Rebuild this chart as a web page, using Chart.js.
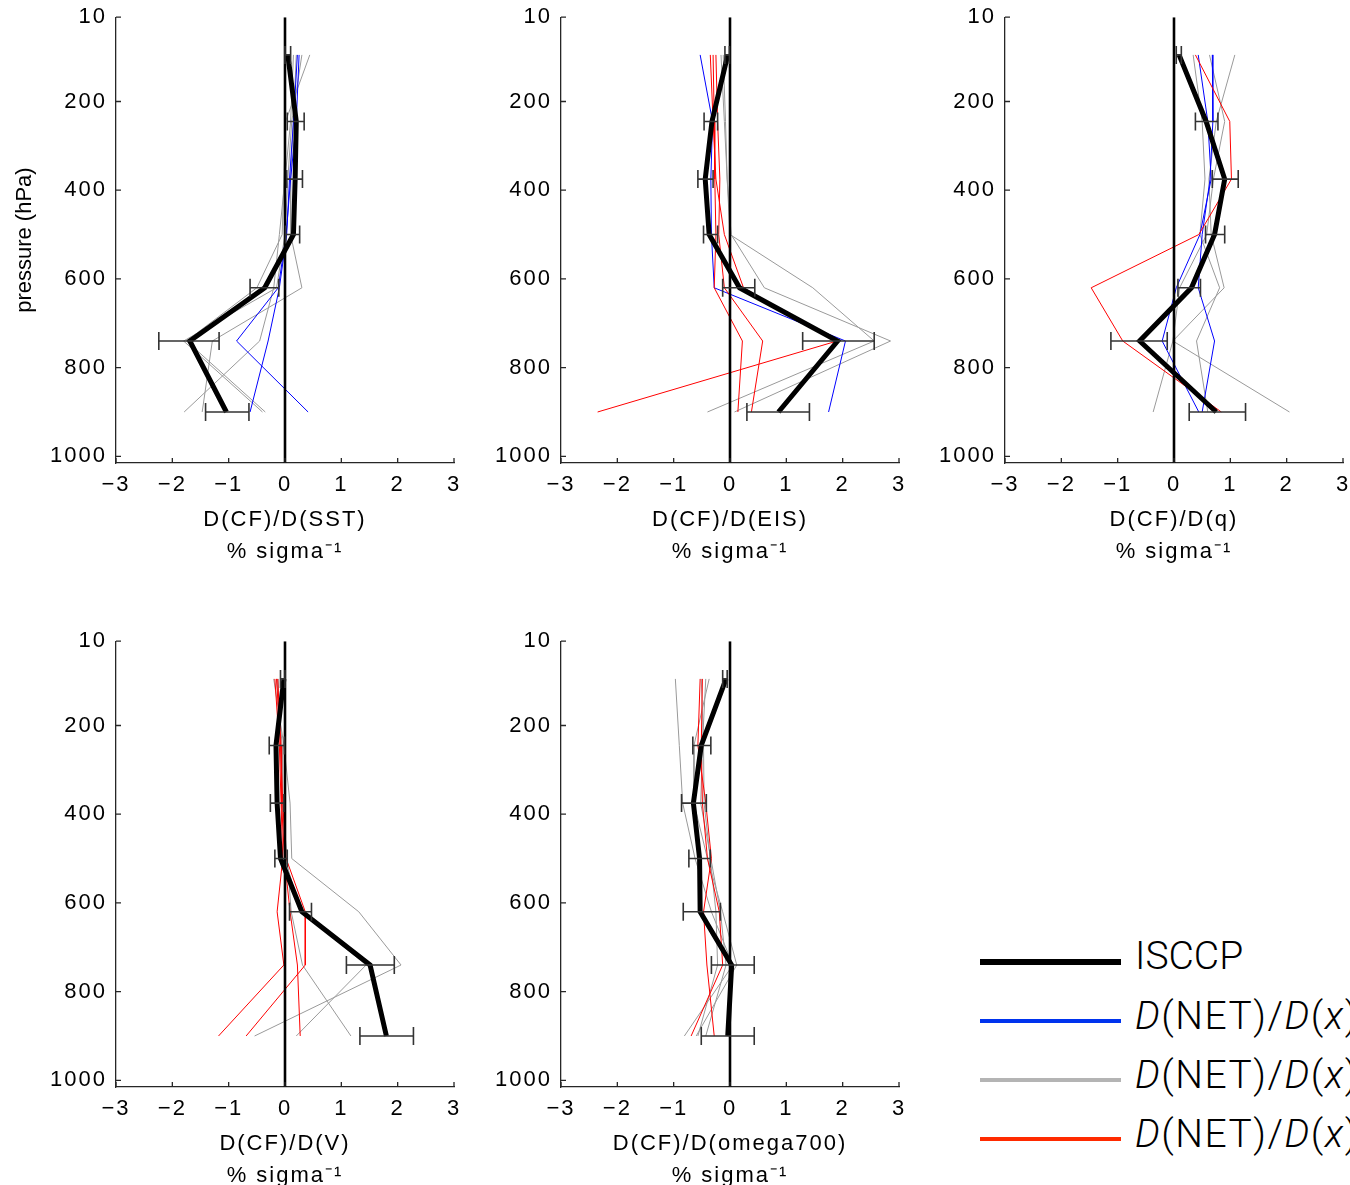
<!DOCTYPE html>
<html>
<head>
<meta charset="utf-8">
<script src="https://cdn.jsdelivr.net/npm/chart.js@4.4.1/dist/chart.umd.min.js"></script>
<style>
  html, body { margin: 0; padding: 0; background: #fff; }
  body { width: 1350px; height: 1185px; position: relative; overflow: hidden; }
  .panel { position: absolute; width: 470px; height: 573px; }
  .leg-line { position: absolute; left: 980px; width: 141px; }
  .leg-text { position: absolute; left: 1135px; font-family: Roboto, "Liberation Sans", sans-serif; font-weight: 300;
              font-size: 39px; line-height: 39px; white-space: nowrap; color: #000; }
  .leg-text.net { letter-spacing: 1.5px; }
</style>
</head>
<body>
<div class="panel" style="left:0px;top:-5px"><canvas id="p-sst"></canvas></div>
<div class="panel" style="left:445px;top:-5px"><canvas id="p-eis"></canvas></div>
<div class="panel" style="left:889px;top:-5px"><canvas id="p-q"></canvas></div>
<div class="panel" style="left:0px;top:619px"><canvas id="p-v"></canvas></div>
<div class="panel" style="left:445px;top:619px"><canvas id="p-w"></canvas></div>

<div class="leg-line" style="top:959px;height:6px;background:#000"></div>
<div class="leg-text" style="top:937px">ISCCP</div>
<div class="leg-line" style="top:1019px;height:4px;background:#0033ee"></div>
<div class="leg-text net" style="top:997px"><i>D</i>(NET)/<i>D</i>(<i>x</i>)</div>
<div class="leg-line" style="top:1078px;height:4px;background:#b4b4b4"></div>
<div class="leg-text net" style="top:1056px"><i>D</i>(NET)/<i>D</i>(<i>x</i>)</div>
<div class="leg-line" style="top:1137px;height:4px;background:#ff2a00"></div>
<div class="leg-text net" style="top:1115px"><i>D</i>(NET)/<i>D</i>(<i>x</i>)</div>

<script>
// ISCCP pressure levels (hPa)
const levels = [95, 245, 375, 500, 620, 740, 900];
const yTicks = [10, 200, 400, 600, 800, 1000];
const xTicks = [-3, -2, -1, 0, 1, 2, 3];

// D(CF)/D(SST)
const isccpSST = [0.05, 0.2, 0.18, 0.15, -0.36, -1.69, -1.04];
const errLoSST = [0.0, 0.04, 0.03, 0.01, -0.62, -2.24, -1.41];
const errHiSST = [0.1, 0.34, 0.31, 0.26, -0.11, -1.17, -0.64];
const blueSST = [
  [0.25, 0.2, 0.1, 0.02, -0.12, -0.86, 0.41],
  [0.22, 0.15, 0.08, 0.03, -0.1, -0.3, -0.62]
];
const graySST = [
  [0.44, 0.01, -0.02, -0.05, -0.5, -1.75, -0.35],
  [0.3, 0.12, 0.05, 0.0, -0.15, -1.8, -0.4],
  [0.2, 0.15, 0.1, 0.1, 0.3, -1.29, -1.47],
  [0.15, 0.1, 0.0, -0.1, -0.2, -0.45, -1.79]
];
const redSST = [];

// D(CF)/D(EIS)
const isccpEIS = [-0.04, -0.32, -0.44, -0.37, 0.17, 1.91, 0.86];
const errLoEIS = [-0.09, -0.46, -0.57, -0.47, -0.13, 1.29, 0.3];
const errHiEIS = [-0.01, -0.22, -0.3, -0.22, 0.44, 2.56, 1.41];
const blueEIS = [
  [-0.53, -0.31, -0.34, -0.33, -0.28, 2.05, 1.75]
];
const grayEIS = [
  [-0.16, -0.1, -0.05, 0.0, 1.47, 2.56, -0.4],
  [-0.12, -0.08, -0.05, 0.02, 0.61, 2.85, 0.08]
];
const redEIS = [
  [-0.35, -0.3, -0.25, -0.1, 0.24, 1.9, -2.35],
  [-0.3, -0.28, -0.27, -0.25, -0.28, 0.22, 0.14],
  [-0.25, -0.22, -0.18, -0.2, -0.1, 0.58, 0.38]
];

// D(CF)/D(q)
const isccpQ = [0.09, 0.57, 0.9, 0.72, 0.31, -0.61, 0.75];
const errLoQ = [0.04, 0.38, 0.68, 0.56, 0.07, -1.12, 0.27];
const errHiQ = [0.13, 0.78, 1.14, 0.9, 0.47, -0.12, 1.27];
const blueQ = [
  [0.43, 0.6, 0.66, 0.46, 0.04, -0.21, 0.44],
  [0.68, 0.69, 0.64, 0.5, 0.43, 0.72, 0.5]
];
const grayQ = [
  [1.08, 0.75, 0.62, 0.66, 0.89, -0.02, -0.37],
  [0.34, 0.5, 0.55, 0.46, 0.81, 0.4, 0.6],
  [0.63, 0.9, 0.7, 0.58, 0.1, -0.02, 2.05]
];
const redQ = [
  [0.38, 0.99, 1.02, 0.44, -1.47, -0.91, 0.84]
];

// D(CF)/D(V)
const isccpV = [-0.02, -0.16, -0.14, -0.08, 0.3, 1.51, 1.8];
const errLoV = [-0.08, -0.28, -0.26, -0.18, 0.08, 1.09, 1.33];
const errHiV = [0.0, -0.01, -0.02, 0.04, 0.47, 1.94, 2.28];
const blueV = [];
const grayV = [
  [-0.2, -0.02, 0.09, 0.12, 1.31, 2.06, -0.54],
  [-0.15, -0.05, -0.05, 0.04, 0.11, 0.31, 1.17],
  [-0.12, -0.08, -0.05, 0.0, 0.28, 1.44, 0.2]
];
const redV = [
  [-0.18, -0.1, -0.07, -0.04, -0.14, -0.02, -1.18],
  [-0.13, -0.07, -0.06, -0.01, 0.09, 0.22, 0.27],
  [-0.15, -0.08, -0.04, 0.02, 0.36, 0.36, -0.69]
];

// D(CF)/D(omega700)
const isccpW = [-0.07, -0.51, -0.65, -0.54, -0.53, 0.03, -0.04];
const errLoW = [-0.13, -0.66, -0.86, -0.73, -0.83, -0.33, -0.51];
const errHiW = [-0.05, -0.34, -0.42, -0.35, -0.17, 0.43, 0.43];
const blueW = [];
const grayW = [
  [-0.97, -0.9, -0.84, -0.62, -0.33, 0.05, -0.81],
  [-0.37, -0.64, -0.64, -0.4, -0.13, 0.12, -0.6],
  [-0.43, -0.49, -0.52, -0.34, -0.17, -0.07, -0.43],
  [-0.51, -0.47, -0.46, -0.35, -0.25, -0.22, -0.57]
];
const redW = [
  [-0.53, -0.57, -0.43, -0.33, -0.47, -0.41, -0.28],
  [-0.49, -0.51, -0.49, -0.4, -0.19, -0.13, -0.69]
];

const axisColor = '#262626';
const fontFamily = '"Liberation Sans", Arial, sans-serif';

function profile(values) {
  return values.map((v, i) => ({x: v, y: levels[i]}));
}

// horizontal error bars with end caps, drawn on top of the lines
function errorBars(lo, hi) {
  return {
    id: 'errorBars',
    afterDatasetsDraw(chart) {
      const {ctx, scales: {x, y}} = chart;
      ctx.save();
      ctx.strokeStyle = '#333';
      ctx.lineWidth = 1.6;
      ctx.beginPath();
      levels.forEach((p, i) => {
        const py = y.getPixelForValue(p);
        const x1 = x.getPixelForValue(lo[i]);
        const x2 = x.getPixelForValue(hi[i]);
        ctx.moveTo(x1, py); ctx.lineTo(x2, py);
        ctx.moveTo(x1, py - 9); ctx.lineTo(x1, py + 9);
        ctx.moveTo(x2, py - 9); ctx.lineTo(x2, py + 9);
      });
      ctx.stroke();
      ctx.restore();
    }
  };
}

// matlab style tick marks pointing into the axes
const inwardTicks = {
  id: 'inwardTicks',
  afterDraw(chart) {
    const {ctx, chartArea, scales: {x, y}} = chart;
    ctx.save();
    ctx.strokeStyle = axisColor;
    ctx.lineWidth = 1.3;
    ctx.beginPath();
    x.ticks.forEach(t => {
      const px = x.getPixelForValue(t.value);
      ctx.moveTo(px, chartArea.bottom); ctx.lineTo(px, chartArea.bottom - 5);
    });
    y.ticks.forEach(t => {
      const py = y.getPixelForValue(t.value);
      ctx.moveTo(chartArea.left, py); ctx.lineTo(chartArea.left + 5, py);
    });
    ctx.stroke();
    ctx.restore();
  }
};

// the original text is wide, so space the horizontal labels out a little
const wideText = {
  id: 'wideText',
  beforeDraw(chart) { chart.ctx.letterSpacing = '2px'; },
  afterDraw(chart) { chart.ctx.letterSpacing = '0px'; }
};

function makePanel(id, xLabel, isccp, lo, hi, blue, gray, red, yTitle) {
  const datasets = [];
  datasets.push({data: profile(isccp), borderColor: '#000', borderWidth: 5, order: 0});
  datasets.push({data: [{x: 0, y: 10}, {x: 0, y: 1015}], borderColor: '#000', borderWidth: 2.6, order: 1});
  red.forEach(r => datasets.push({data: profile(r), borderColor: '#ff0000', borderWidth: 1, order: 2}));
  blue.forEach(b => datasets.push({data: profile(b), borderColor: '#0000ff', borderWidth: 1, order: 3}));
  gray.forEach(g => datasets.push({data: profile(g), borderColor: '#9a9a9a', borderWidth: 1, order: 4}));

  datasets.forEach(d => { d.pointRadius = 0; d.tension = 0; d.fill = false; });

  const chart = new Chart(document.getElementById(id).getContext('2d'), {
    type: 'line',
    data: {datasets},
    options: {
      responsive: false,
      animation: false,
      layout: {padding: {top: 10, right: 16, left: 0, bottom: 0}},
      plugins: {legend: {display: false}, tooltip: {enabled: false}},
      scales: {
        x: {
          type: 'linear', min: -3, max: 3,
          afterBuildTicks: s => { s.ticks = xTicks.map(v => ({value: v})); },
          afterFit: s => { s.height = 105; },
          grid: {display: false, drawTicks: false},
          border: {color: axisColor, width: 1.3},
          ticks: {
            color: '#000', padding: 9, maxRotation: 0,
            font: {family: fontFamily, size: 22},
            callback: v => v < 0 ? '\u2212' + Math.abs(v) : String(v)
          },
          title: {
            display: true, text: [xLabel, '% sigma\u207B\u00B9'], color: '#000',
            font: {family: fontFamily, size: 22, lineHeight: 1.45},
            padding: {top: 0, bottom: 0}
          }
        },
        y: {
          type: 'linear', reverse: true, min: 10, max: 1015,
          afterBuildTicks: s => { s.ticks = yTicks.map(v => ({value: v})); },
          afterFit: s => { s.width = 116; },
          grid: {display: false, drawTicks: false},
          border: {color: axisColor, width: 1.3},
          ticks: {color: '#000', padding: 9, font: {family: fontFamily, size: 22}, callback: v => String(v)},
          title: {
            display: yTitle, text: 'pressure (hPa)', color: '#000',
            font: {family: fontFamily, size: 22}, padding: {top: 12, bottom: 0}
          }
        }
      }
    },
    plugins: [errorBars(lo, hi), inwardTicks, wideText]
  });

  // the rotated y title keeps normal spacing
  const ys = chart.scales.y;
  const baseTitle = ys.drawTitle;
  ys.drawTitle = function () {
    const c = this.ctx;
    const ls = c.letterSpacing;
    c.letterSpacing = '0px';
    baseTitle.call(this);
    c.letterSpacing = ls;
  };
  chart.draw();
}

function setSize(id) {
  const c = document.getElementById(id);
  c.width = 470; c.height = 573;
  c.style.width = '470px'; c.style.height = '573px';
}
['p-sst', 'p-eis', 'p-q', 'p-v', 'p-w'].forEach(setSize);

makePanel('p-sst', 'D(CF)/D(SST)', isccpSST, errLoSST, errHiSST, blueSST, graySST, redSST, true);
makePanel('p-eis', 'D(CF)/D(EIS)', isccpEIS, errLoEIS, errHiEIS, blueEIS, grayEIS, redEIS, false);
makePanel('p-q', 'D(CF)/D(q)', isccpQ, errLoQ, errHiQ, blueQ, grayQ, redQ, false);
makePanel('p-v', 'D(CF)/D(V)', isccpV, errLoV, errHiV, blueV, grayV, redV, false);
makePanel('p-w', 'D(CF)/D(omega700)', isccpW, errLoW, errHiW, blueW, grayW, redW, false);
</script>
</body>
</html>
